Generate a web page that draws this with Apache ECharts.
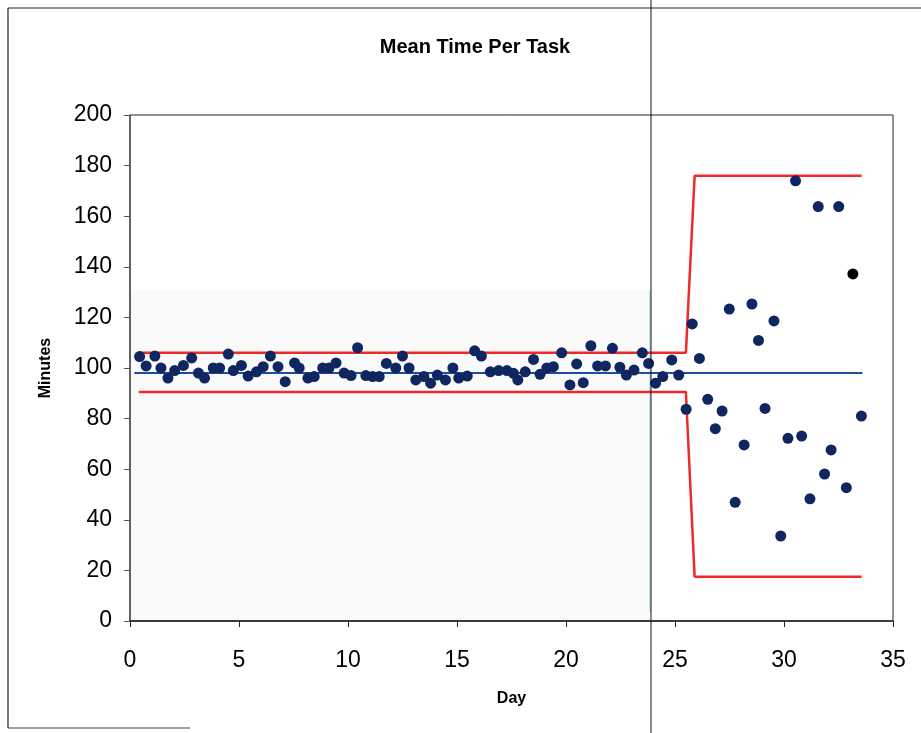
<!DOCTYPE html>
<html>
<head>
<meta charset="utf-8">
<script src="https://cdn.jsdelivr.net/npm/echarts@6/dist/echarts.min.js"></script>
<style>html,body{margin:0;padding:0;background:#fff}#c{width:921px;height:733px}</style>
</head>
<body>
<div id="c"></div>
<script>
// Day of each task
const days = [0.44,0.74,1.14,1.42,1.74,2.05,2.45,2.83,3.14,3.42,3.82,4.11,4.51,4.74,5.11,5.42,5.80,6.11,6.44,6.79,
  7.12,7.55,7.76,8.16,8.45,8.84,9.13,9.45,9.82,10.14,10.44,10.82,11.13,11.43,11.76,12.19,12.50,12.80,13.11,13.48,
  13.79,14.10,14.47,14.81,15.08,15.47,15.81,16.12,16.53,16.91,17.29,17.59,17.79,18.13,18.51,18.81,19.12,19.42,19.80,20.18,
  20.49,20.79,21.14,21.45,21.81,22.13,22.47,22.77,23.12,23.50,23.79,24.11,24.44,24.85,25.17,
  25.51,25.79,26.12,26.50,26.85,27.16,27.49,27.76,28.17,28.53,28.83,29.13,29.54,29.85,30.18,30.53,30.81,31.19,31.57,31.86,
  32.16,32.51,32.86,33.55];
// Mean minutes per task
const minutes = [104.5,100.8,104.7,100,96,99,101,104,98,96,100,100,105.5,99,101,96.8,98.5,100.5,104.7,100.5,
  94.6,102,100,96,96.6,100,100,102,98,97,108,97,96.6,96.6,101.8,100,104.7,100,95.3,96.6,
  94,97.2,95.3,100,96,96.8,106.8,104.7,98.5,99,99,97.9,95.3,98.5,103.4,97.5,100,100.5,106,93.3,
  101.6,94.2,108.8,100.8,100.8,107.8,100.3,97.2,99.2,106,101.8,94,96.6,103.2,97.2,
  83.7,117.4,103.8,87.6,76,83,123.3,46.9,69.6,125.3,110.9,84,118.6,33.6,72.2,174,73.1,48.3,163.8,58.1,
  67.6,163.8,52.7,81];
// highlighted point
const highlightDay = [33.16];
const highlightMin = [137.2];
// control lines
const limitDays = [0.4, 25.5, 25.9, 33.56];
const ucl = [106, 106, 176, 176];
const lcl = [90.5, 90.5, 17.5, 17.5];
const meanDays = [0.2, 33.6];
const meanVal = [98, 98];
const xTicks = [0,5,10,15,20,25,30,35];
const yTicks = [0,20,40,60,80,100,120,140,160,180,200];

const zip = (a,b) => a.map((v,i)=>[v,b[i]]);
const chart = echarts.init(document.getElementById('c'), null, {renderer:'canvas'});
const FONT = '"Liberation Sans", Arial, sans-serif';
chart.setOption({
  animation:false,
  backgroundColor:'#fff',
  title:{text:'Mean Time Per Task', left:470, textAlign:'center', top:32,
    textStyle:{fontFamily:FONT, fontWeight:'bold', fontSize:20, color:'#000'}},
  grid:{left:130, right:28, top:115, bottom:112, show:true, borderColor:'#222', borderWidth:1, backgroundColor:'transparent'},
  xAxis:{type:'value', min:xTicks[0], max:xTicks[xTicks.length-1], interval:5,
    name:'Day', nameLocation:'middle', nameGap:70,
    nameTextStyle:{fontFamily:FONT, fontWeight:'bold', fontSize:16, color:'#000'},
    axisLine:{show:true, onZero:false, lineStyle:{color:'#222', width:1.5}},
    axisTick:{show:true, inside:false, length:6, lineStyle:{color:'#222'}},
    axisLabel:{margin:28, fontFamily:FONT, fontSize:23, color:'#000'},
    splitLine:{show:false}},
  yAxis:{type:'value', min:yTicks[0], max:yTicks[yTicks.length-1], interval:20,
    name:'Minutes', nameLocation:'middle', nameGap:76, nameRotate:90,
    nameTextStyle:{fontFamily:FONT, fontWeight:'bold', fontSize:16, color:'#000'},
    axisLine:{show:true, lineStyle:{color:'#555', width:1.5}},
    axisTick:{show:true, length:6, lineStyle:{color:'#555'}},
    axisLabel:{margin:18, fontFamily:FONT, fontSize:23, color:'#000'},
    splitLine:{show:false}},
  graphic:[
    {type:'rect', shape:{x:131, y:290, width:519, height:330}, style:{fill:'#fafafa'}, z:-10, silent:true},
    {type:'line', shape:{x1:650, y1:290, x2:650, y2:612}, style:{stroke:'#bfeaf2', lineWidth:2}, z:-5},
    {type:'line', shape:{x1:651, y1:0, x2:651, y2:733}, style:{stroke:'#111', lineWidth:1}, z:100},
    {type:'line', shape:{x1:8, y1:8, x2:921, y2:8}, style:{stroke:'#222', lineWidth:1.2}, z:100},
    {type:'line', shape:{x1:8, y1:8, x2:8, y2:728}, style:{stroke:'#222', lineWidth:1.2}, z:100},
    {type:'line', shape:{x1:8, y1:728, x2:190, y2:728}, style:{stroke:'#444', lineWidth:1}, z:100}
  ],
  series:[
    {type:'line', data:zip(limitDays, ucl), symbol:'none', lineStyle:{color:'#ee2a2a', width:2.5}, z:2},
    {type:'line', data:zip(limitDays, lcl), symbol:'none', lineStyle:{color:'#ee2a2a', width:2.5}, z:2},
    {type:'line', data:zip(meanDays, meanVal), symbol:'none', lineStyle:{color:'#1f4e9a', width:2}, z:2},
    {type:'scatter', data:zip(days, minutes), symbol:'circle', symbolSize:11, itemStyle:{color:'#0f2660', opacity:1}, z:5},
    {type:'scatter', data:zip(highlightDay, highlightMin), symbol:'circle', symbolSize:11, itemStyle:{color:'#000', opacity:1}, z:5}
  ]
});
</script>
</body>
</html>
